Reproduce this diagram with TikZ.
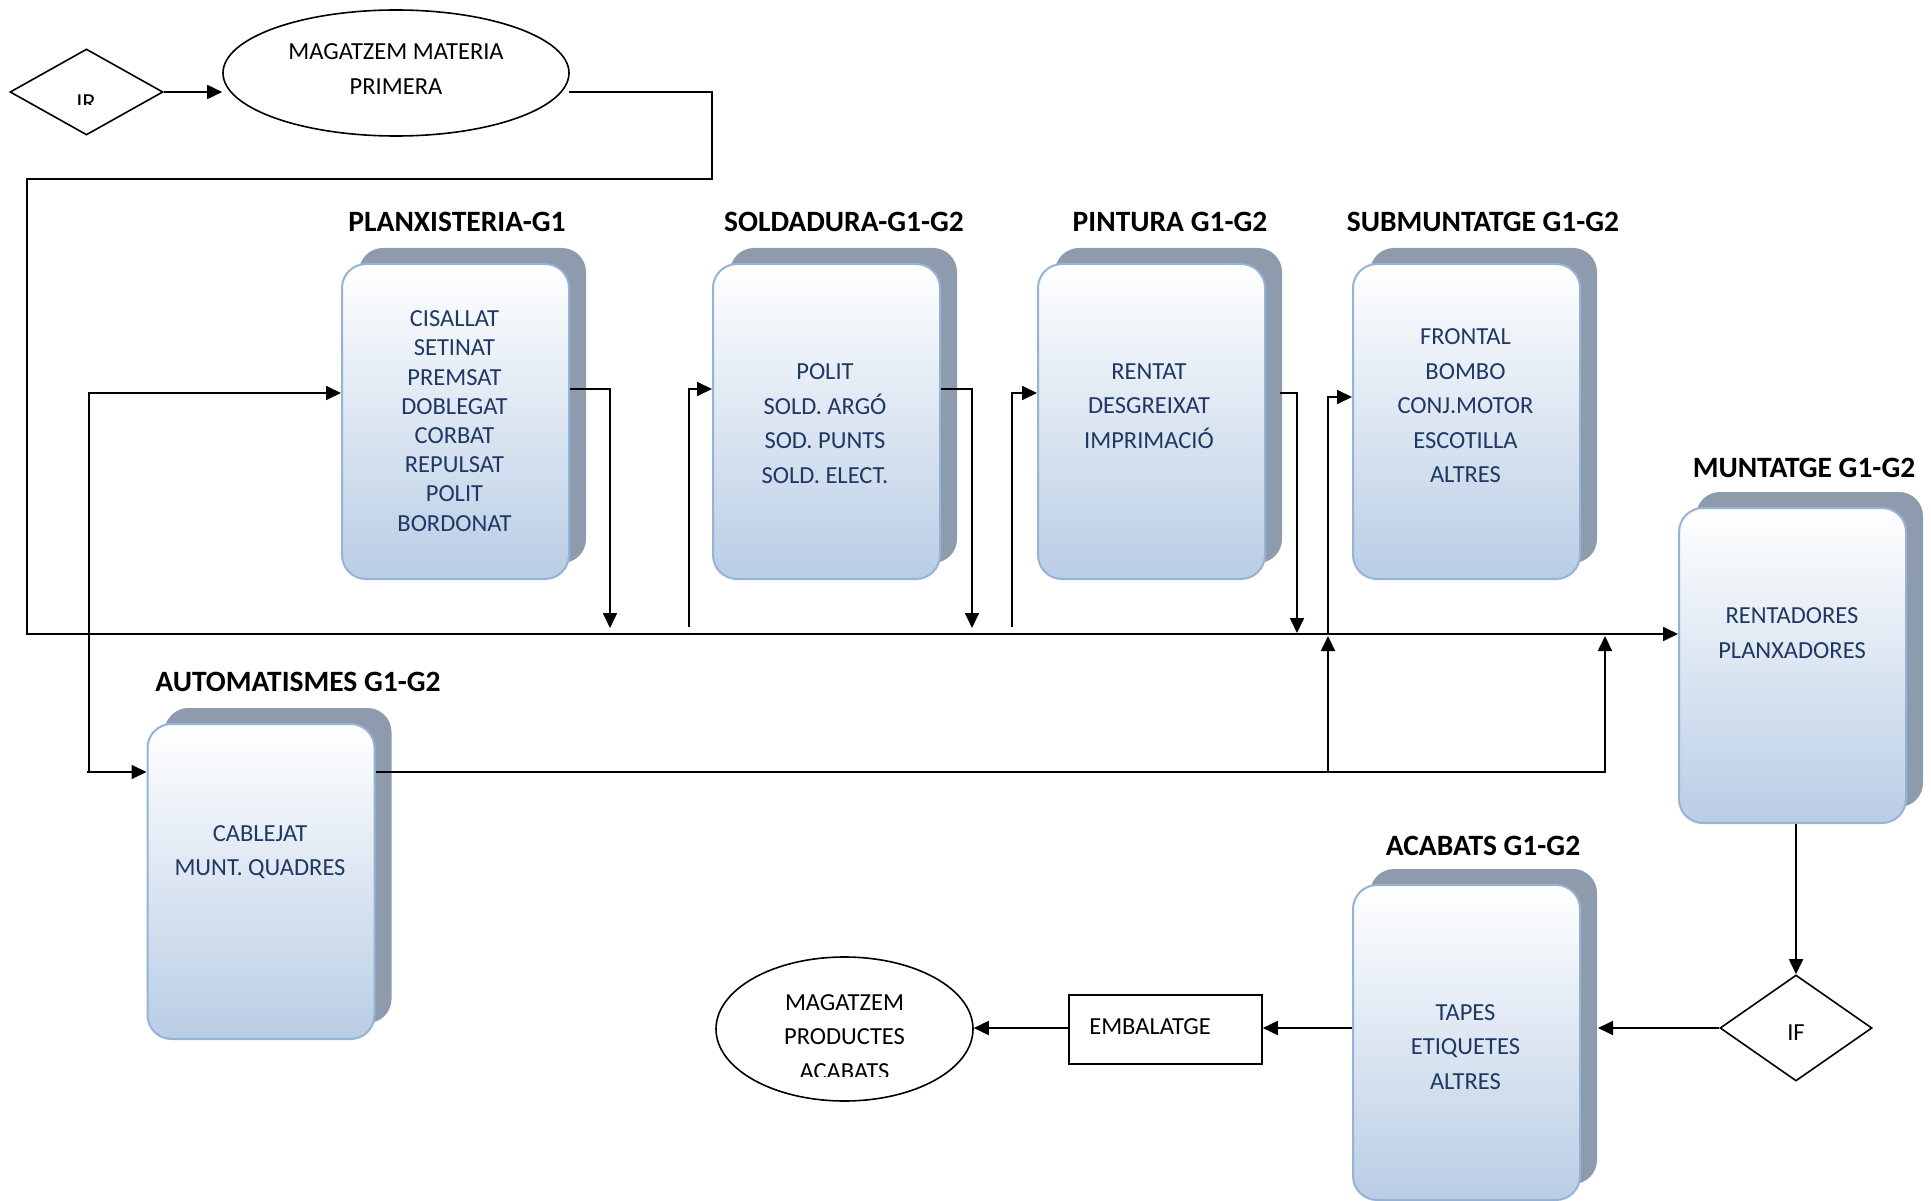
\documentclass[tikz,border=0pt]{standalone}
\usepackage{fontspec}
\setmainfont{Carlito}
\usetikzlibrary{shapes.geometric,arrows.meta,shadows,calc}
\definecolor{shadowc}{RGB}{142,155,172}
\definecolor{borderc}{RGB}{149,179,215}
\definecolor{fillbot}{RGB}{185,205,229}
\definecolor{txtc}{RGB}{31,56,100}
\tikzset{
  procbox/.style={rectangle, rounded corners=24pt, minimum width=227pt, minimum height=315pt,
    draw=borderc, line width=2pt, top color=white, bottom color=fillbot,
    general shadow={draw=none, fill=shadowc, shadow xshift=17pt, shadow yshift=16pt},
    anchor=north west, inner sep=0pt},
  boxtxt/.style={align=center, text=txtc, inner sep=0pt, font=\fontsize{24.5}{34.5}\selectfont},
  boxtxtdense/.style={boxtxt, font=\fontsize{24.5}{29.2}\selectfont},
  ttl/.style={font=\bfseries\fontsize{29.5}{34}\selectfont, inner sep=0pt},
  plaintxt/.style={font=\fontsize{24.5}{34.5}\selectfont, inner sep=0pt, align=center},
  flowline/.style={line width=1.8pt, -{Triangle[length=15pt,width=14pt]}},
  outline/.style={draw=black, line width=1.6pt, inner sep=0pt},
}
\begin{document}
\begin{tikzpicture}[x=1pt,y=-1pt]
\useasboundingbox (0,0) rectangle (1931,1201);

% --- top: IR and raw-material store
\node[outline, diamond, minimum width=153pt, minimum height=86pt] (ir) at (86.5,92) {};
\begin{scope}
  \clip (50,80) rectangle (125,105);
  \node[plaintxt, anchor=base] (irtxt) at (86,111) {IR};
\end{scope}
\node[outline, ellipse, minimum width=346pt, minimum height=126pt] (mag1) at (396,73) {};
\node[plaintxt] (mag1txt) at (396,69) {MAGATZEM MATERIA\\PRIMERA};

% --- process boxes
\node[procbox] (planx) at (341,263) {};
\node[procbox] (sold)  at (712,263) {};
\node[procbox] (pint)  at (1037,263) {};
\node[procbox] (subm)  at (1352,263) {};
\node[procbox] (munt)  at (1678,507) {};
\node[procbox] (autom) at (146.5,723) {};
\node[procbox] (acab)  at (1352,884) {};

% --- titles
\node[ttl] (t1) at (457,222) {PLANXISTERIA-G1};
\node[ttl] (t2) at (844,222) {SOLDADURA-G1-G2};
\node[ttl] (t3) at (1170,222) {PINTURA G1-G2};
\node[ttl] (t4) at (1483,222) {SUBMUNTATGE G1-G2};
\node[ttl] (t5) at (1804,468) {MUNTATGE G1-G2};
\node[ttl] (t6) at (298,682) {AUTOMATISMES G1-G2};
\node[ttl] (t7) at (1483,846) {ACABATS G1-G2};

% --- box texts
\node[boxtxtdense] (planxtxt) at (454.5,421) {CISALLAT\\SETINAT\\PREMSAT\\DOBLEGAT\\CORBAT\\REPULSAT\\POLIT\\BORDONAT};
\node[boxtxt] (soldtxt) at (825,423.5) {POLIT\\SOLD. ARGÓ\\SOD. PUNTS\\SOLD. ELECT.};
\node[boxtxt] (pinttxt) at (1149,406) {RENTAT\\DESGREIXAT\\IMPRIMACIÓ};
\node[boxtxt] (submtxt) at (1465.5,406) {FRONTAL\\BOMBO\\CONJ.MOTOR\\ESCOTILLA\\ALTRES};
\node[boxtxt] (munttxt) at (1792,633) {RENTADORES\\PLANXADORES};
\node[boxtxt] (autotxt) at (260,852) {CABLEJAT\\MUNT. QUADRES};
\node[boxtxt] (acabtxt) at (1465.5,1047) {TAPES\\ETIQUETES\\ALTRES};

% --- bottom: IF, packing, finished-goods store
\node[outline, diamond, minimum width=152pt, minimum height=106pt] (if) at (1796,1028) {};
\node[plaintxt] (iftxt) at (1796,1033) {IF};
\node[outline, rectangle, minimum width=193pt, minimum height=69pt] (emb) at (1165.5,1029.5) {};
\node[plaintxt] (embtxt) at (1150,1027) {EMBALATGE};
\node[outline, ellipse, minimum width=257pt, minimum height=144pt] (mag2) at (844.5,1029) {};
\begin{scope}
  \clip (700,980) rectangle (990,1076);
  \node[plaintxt] (mag2txt) at (844.5,1037) {MAGATZEM\\PRODUCTES\\ACABATS};
\end{scope}

% --- connectors
\coordinate (m1) at (569,92);
\coordinate (mainy) at (27,634);
\coordinate (split) at (89,772);
\draw[flowline] (ir.east) -- (ir.east -| mag1.west);
\draw[flowline] (m1) -- (712,92) -- (712,179) -- (27,179) -- (mainy) -- (mainy -| munt.west);

\draw[flowline] (planx.east |- 0,389) -- (610,389) -- (610,628);
\draw[flowline] (689,627) -- (689,389) -- (sold.west |- 0,389);
\draw[flowline] (sold.east |- 0,389) -- (972,389) -- (972,628);
\draw[flowline] (1012,627) -- (1012,393) -- (pint.west |- 0,393);
\draw[flowline] (1280,393) -- (1297,393) -- (1297,633);
\draw[flowline] (1328,772) -- (1328,636);
\draw[flowline] (1328,634) -- (1328,397) -- (subm.west |- 0,397);
\draw[flowline] (autom.east |- 0,772) -- (1605,772) -- (1605,636);
\draw[flowline] (split) -- (89,393) -- (planx.west |- 0,393);
\draw[flowline] (87,772) -- (autom.west |- 0,772);

\draw[flowline] (if.north |- munt.south) -- (if.north);
\draw[flowline] (if.west) -- ($(acab.east |- if.west)+(17,0)$);
\draw[flowline] (acab.west |- if.west) -- (emb.east |- if.west);
\draw[flowline] (emb.west |- if.west) -- (mag2.east |- if.west);
\end{tikzpicture}
\end{document}
